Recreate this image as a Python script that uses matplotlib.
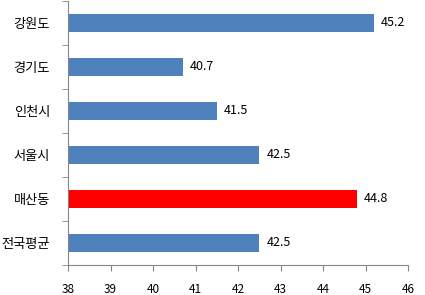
import matplotlib.pyplot as plt

plt.rcParams['font.family'] = ['Noto Sans CJK KR', 'DejaVu Sans']

regions = ['강원도', '경기도', '인천시', '서울시', '매산동', '전국평균']
values = [45.2, 40.7, 41.5, 42.5, 44.8, 42.5]
colors = ['#4F81BD', '#4F81BD', '#4F81BD', '#4F81BD', '#FF0000', '#4F81BD']
xticks = [38, 39, 40, 41, 42, 43, 44, 45, 46]

fig = plt.figure(figsize=(4.25, 2.95), dpi=100)
ax = fig.add_axes([68 / 425, 30 / 295, 340 / 425, 264 / 295])

pos = list(range(len(regions)))[::-1]
bars = ax.barh(pos, [v - 38 for v in values], left=38, height=0.4, color=colors)
for p, v in zip(pos, values):
    ax.text(v + 0.17, p, f'{v}', va='center', ha='left', fontsize=9, color='black')

ax.set_xlim(38, 46)
ax.set_ylim(-0.5, len(regions) - 0.5)
ax.set_xticks(xticks)
ax.set_xticklabels([str(t) for t in xticks], fontsize=8.5)
ax.set_yticks(pos)
ax.set_yticklabels(regions, fontsize=9.5)
ax.set_yticks([i - 0.5 for i in range(len(regions) + 1)], minor=True)

gray = '#868686'
for s in ['top', 'right']:
    ax.spines[s].set_visible(False)
for s in ['left', 'bottom']:
    ax.spines[s].set_color(gray)
ax.tick_params(axis='y', which='major', length=0, pad=13)
ax.tick_params(axis='y', which='minor', length=4, color=gray)
ax.tick_params(axis='x', length=4, color=gray, pad=9)

fig.savefig('out.png', dpi=100)
